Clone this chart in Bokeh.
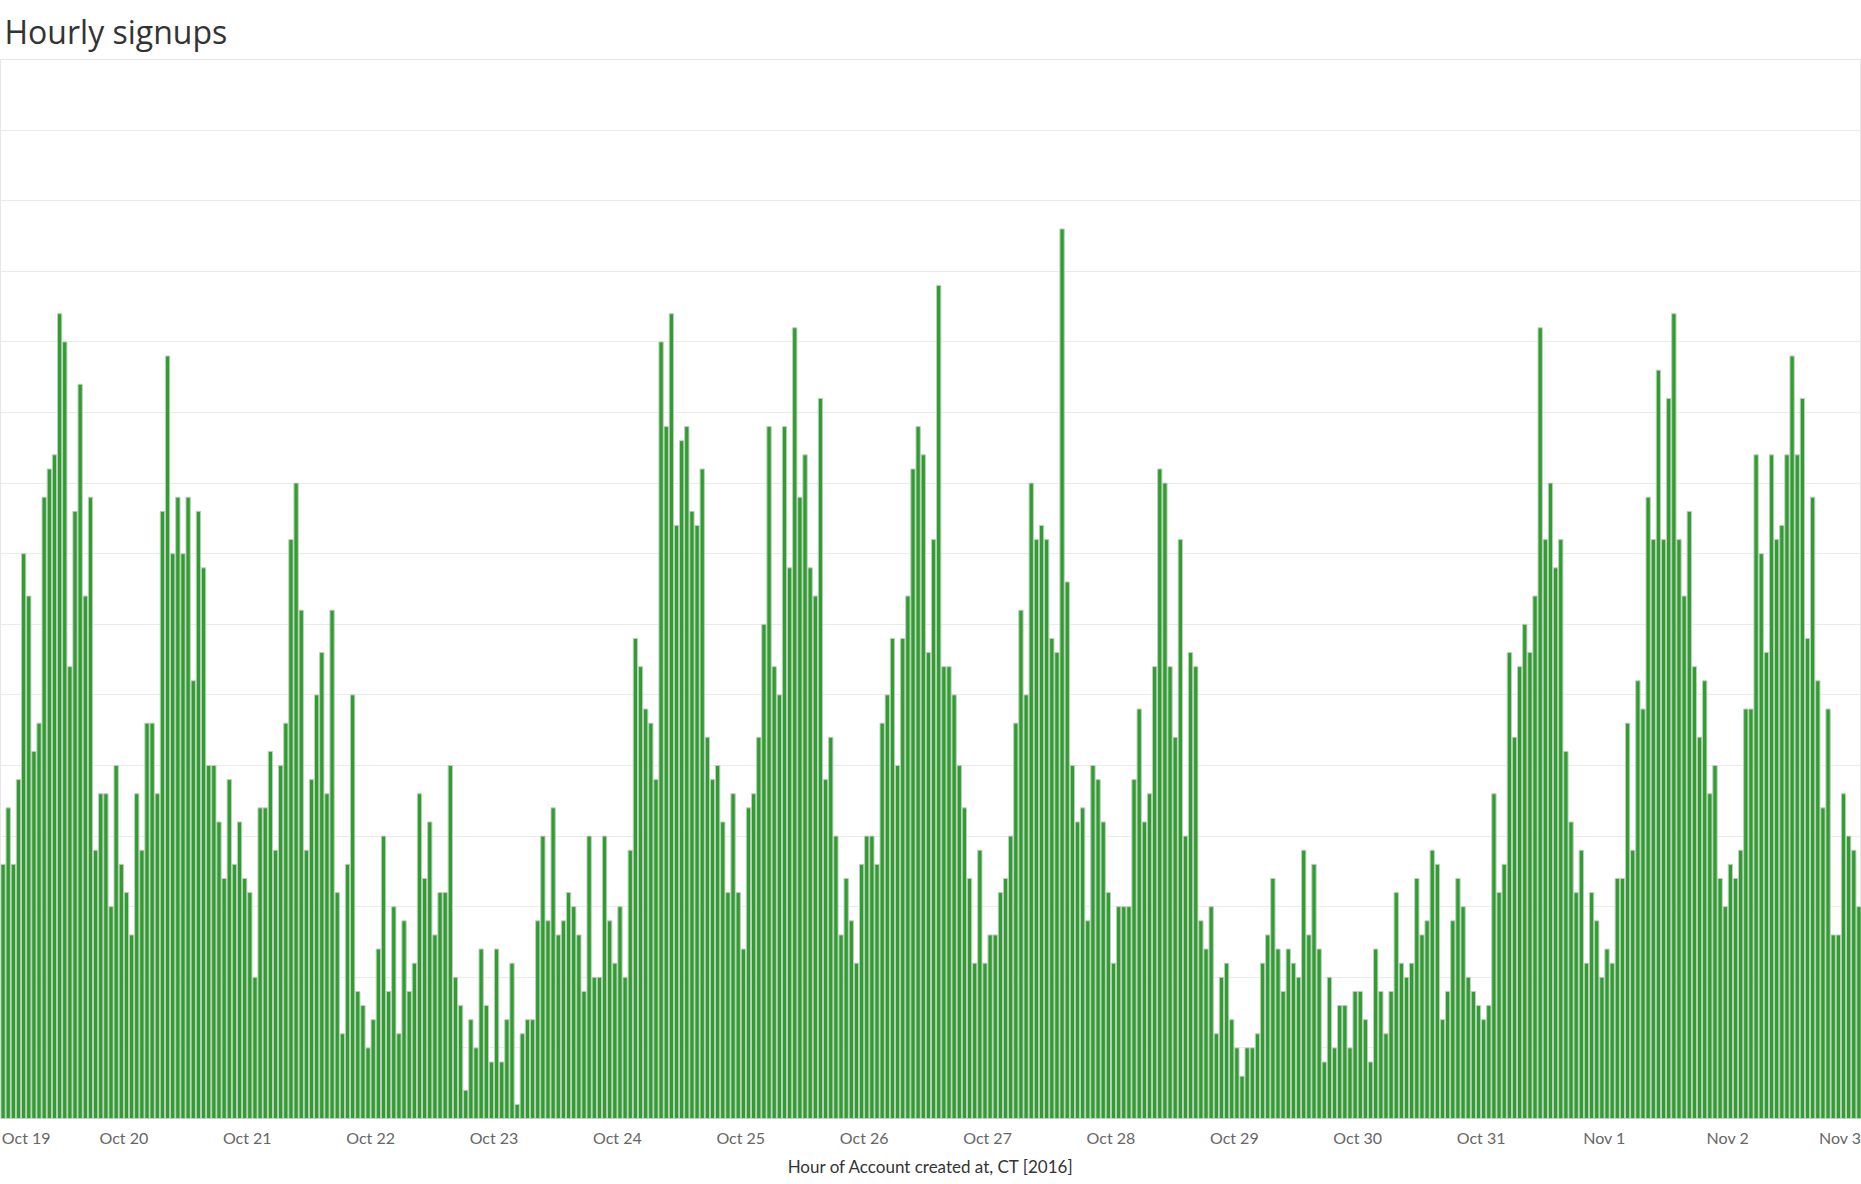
from bokeh.plotting import figure
from bokeh.models import Range1d, FixedTicker, Grid
from bokeh.embed import file_html
from bokeh.resources import INLINE

title_text = "Hourly signups"
x_title = "Hour of Account created at, CT [2016]"

day_labels = ["Oct 19", "Oct 20", "Oct 21", "Oct 22", "Oct 23", "Oct 24", "Oct 25",
              "Oct 26", "Oct 27", "Oct 28", "Oct 29", "Oct 30", "Oct 31",
              "Nov 1", "Nov 2", "Nov 3"]

# hourly signup counts, starting Oct 19 00:00
signups = [
    18, 22, 18, 24, 40, 37, 26, 28, 44, 46, 47, 57, 55, 32, 43, 52, 37, 44, 19, 23, 23, 15, 25, 18,
    16, 13, 23, 19, 28, 28, 23, 43, 54, 40, 44, 40, 44, 31, 43, 39, 25, 25, 21, 17, 24, 18, 21, 17,
    16, 10, 22, 22, 26, 19, 25, 28, 41, 45, 36, 19, 24, 30, 33, 23, 36, 16, 6, 18, 30, 9, 8, 5,
    7, 12, 20, 9, 15, 6, 14, 9, 11, 23, 17, 21, 13, 16, 16, 25, 10, 8, 2, 7, 5, 12, 8, 4,
    12, 4, 7, 11, 1, 6, 7, 7, 14, 20, 14, 22, 13, 14, 16, 15, 13, 9, 20, 10, 10, 20, 14, 11,
    15, 10, 19, 34, 32, 29, 28, 24, 55, 49, 57, 42, 48, 49, 43, 42, 46, 27, 24, 25, 21, 16, 23, 16,
    12, 22, 23, 27, 35, 49, 32, 30, 49, 39, 56, 44, 47, 39, 37, 51, 24, 27, 20, 13, 17, 14, 11, 18,
    20, 20, 18, 28, 30, 34, 25, 34, 37, 46, 49, 47, 33, 41, 59, 32, 32, 30, 25, 22, 17, 11, 19, 11,
    13, 13, 16, 17, 20, 28, 36, 30, 45, 41, 42, 41, 34, 33, 63, 38, 25, 21, 22, 14, 25, 24, 21, 16,
    11, 15, 15, 15, 24, 29, 21, 23, 32, 46, 45, 32, 27, 41, 20, 33, 32, 14, 12, 15, 6, 10, 11, 7,
    5, 3, 5, 5, 6, 11, 13, 17, 12, 9, 12, 11, 10, 19, 13, 18, 12, 4, 10, 5, 8, 8, 5, 9,
    9, 7, 4, 12, 9, 6, 9, 16, 11, 10, 11, 17, 13, 14, 19, 18, 7, 9, 14, 17, 15, 10, 9, 8,
    7, 8, 23, 16, 18, 33, 27, 32, 35, 33, 37, 56, 41, 45, 39, 41, 26, 21, 16, 19, 11, 16, 14, 10,
    12, 11, 17, 17, 28, 19, 31, 29, 44, 41, 53, 41, 51, 57, 41, 37, 43, 32, 27, 31, 23, 25, 17, 15,
    18, 17, 19, 29, 29, 47, 40, 33, 47, 41, 42, 47, 54, 47, 51, 34, 44, 31, 22, 29, 13, 13, 23, 20,
    19, 15,
]

n = len(signups)
hour_centers = [i + 0.5 for i in range(n)]

W, H = 1861, 1184
p = figure(width=W, height=H, output_backend="svg", toolbar_location=None,
           x_range=Range1d(0, n), y_range=Range1d(0, 75),
           y_axis_location=None,
           min_border_left=0, min_border_right=0,
           min_border_top=59, min_border_bottom=66,
           title=title_text)

p.background_fill_color = "white"
p.border_fill_color = "white"
p.outline_line_color = "#e6e6e6"
p.outline_line_width = 1

p.title.text_font = "Open Sans"
p.title.text_font_size = "32px"
p.title.text_font_style = "normal"
p.title.text_color = "#333333"
p.title.align = "left"
p.title.offset = 4
p.title.standoff = 14

p.xgrid.grid_line_color = None
p.ygrid.grid_line_color = None
p.add_layout(Grid(dimension=1, ticker=FixedTicker(ticks=list(range(0, 76, 5))),
                  grid_line_color="#ebebeb", grid_line_width=1))

p.vbar(x=hour_centers, top=signups, width=0.84, bottom=0,
       fill_color="#2ca02c", line_color="#c8c8c8", line_width=1)

# day ticks (edge labels pulled inside the frame, as in the original)
tick_pos = [24 * k for k in range(len(day_labels))]
tick_pos[0] = 5
tick_pos[-1] = 358
p.xaxis.ticker = FixedTicker(ticks=tick_pos)
p.xaxis.major_label_overrides = {t: lab for t, lab in zip(tick_pos, day_labels)}
p.xaxis.axis_line_color = None
p.xaxis.major_tick_line_color = None
p.xaxis.minor_tick_line_color = None
p.xaxis.major_label_text_font = "Lato"
p.xaxis.major_label_text_font_size = "16px"
p.xaxis.major_label_text_color = "#666666"
p.xaxis.major_label_standoff = 3
p.xaxis.axis_label = x_title
p.xaxis.axis_label_text_font = "Lato"
p.xaxis.axis_label_text_font_size = "17px"
p.xaxis.axis_label_text_font_style = "normal"
p.xaxis.axis_label_text_color = "#333333"
p.xaxis.axis_label_standoff = 6

open("out.html", "w").write(file_html(p, INLINE))
